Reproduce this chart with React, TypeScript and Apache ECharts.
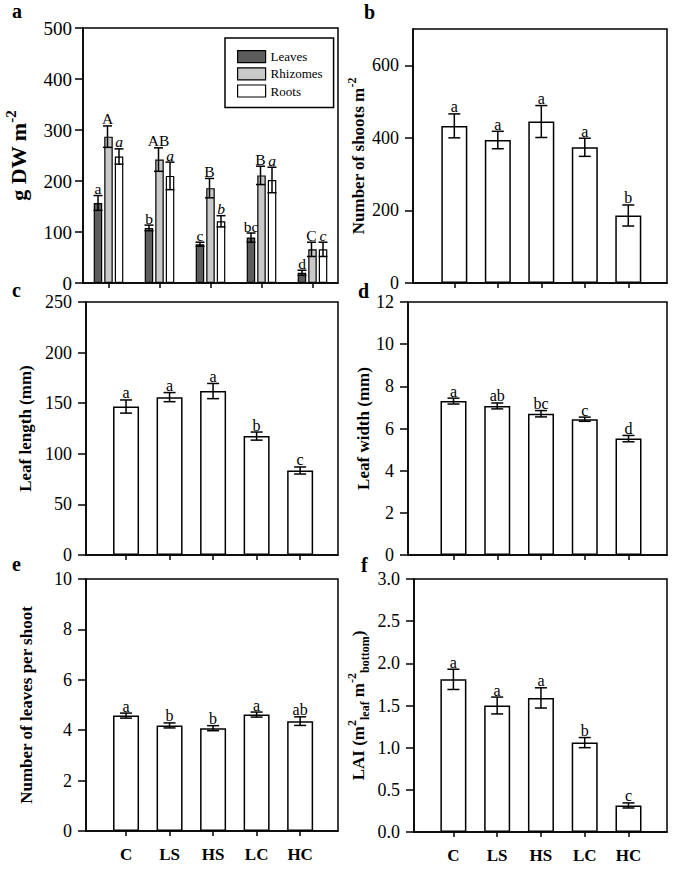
import React, { useEffect, useRef } from 'react';
import * as echarts from 'echarts';

const FONT = "'Liberation Serif', 'Times New Roman', Times, serif";

const categories = ['C', 'LS', 'HS', 'LC', 'HC'];

// Panel a: biomass (g DW m-2)
const leavesMean = [157, 108, 76, 89, 20];
const leavesErr = [14.5, 5.5, 4, 9, 5];
const leavesLetters = ['a', 'b', 'c', 'bc', 'd'];
const rhizomesMean = [287, 242, 186, 211, 66];
const rhizomesErr = [21, 23, 19, 18, 14];
const rhizomesLetters = ['A', 'AB', 'B', 'B', 'C'];
const rootsMean = [248, 210, 121, 202, 66];
const rootsErr = [15, 27, 11, 25, 14];
const rootsLetters = ['a', 'a', 'b', 'a', 'c'];

// Panel b: number of shoots m-2
const shootsMean = [433, 394, 445, 374, 186];
const shootsErr = [33, 24, 44, 25, 29];
const shootsLetters = ['a', 'a', 'a', 'a', 'b'];

// Panel c: leaf length (mm)
const leafLengthMean = [146.7, 156, 162, 117.5, 83.5];
const leafLengthErr = [6.5, 4.5, 7.5, 4, 3.5];
const leafLengthLetters = ['a', 'a', 'a', 'b', 'c'];

// Panel d: leaf width (mm)
const leafWidthMean = [7.3, 7.07, 6.7, 6.44, 5.52];
const leafWidthErr = [0.14, 0.14, 0.15, 0.1, 0.15];
const leafWidthLetters = ['a', 'ab', 'bc', 'c', 'd'];

// Panel e: number of leaves per shoot
const leavesPerShootMean = [4.58, 4.19, 4.08, 4.62, 4.36];
const leavesPerShootErr = [0.1, 0.1, 0.1, 0.1, 0.17];
const leavesPerShootLetters = ['a', 'b', 'b', 'a', 'ab'];

// Panel f: LAI
const laiMean = [1.81, 1.5, 1.59, 1.06, 0.315];
const laiErr = [0.12, 0.1, 0.12, 0.06, 0.03];
const laiLetters = ['a', 'a', 'a', 'b', 'c'];

const catIndex = [0, 1, 2, 3, 4];

type Layout = { left: number; top: number; width: number; height: number; xmin: number; xmax: number };

const layouts: Layout[] = [
  { left: 83, top: 28, width: 255, height: 255, xmin: -0.5, xmax: 4.5 },
  { left: 413, top: 29, width: 254, height: 254, xmin: -0.95, xmax: 4.89 },
  { left: 86, top: 302, width: 252, height: 253, xmin: -0.92, xmax: 4.87 },
  { left: 408, top: 302, width: 259, height: 253, xmin: -1.04, xmax: 4.88 },
  { left: 86, top: 579, width: 252, height: 252, xmin: -0.92, xmax: 4.87 },
  { left: 414, top: 579, width: 253, height: 253, xmin: -0.9, xmax: 4.88 },
];

const LS = { stroke: '#000', lineWidth: 1.5 };

function errorSeries(
  gi: number,
  means: number[],
  errs: number[],
  letters: string[],
  capW: number,
  offset: number,
  italic: boolean,
  fontSize: number
) {
  return {
    type: 'custom',
    xAxisIndex: gi,
    yAxisIndex: gi,
    z: 5,
    silent: true,
    data: means.map((m, i) => [i, m, errs[i]]),
    renderItem: (params: any, api: any) => {
      const x = api.value(0);
      const m = api.value(1);
      const e = api.value(2);
      const top = api.coord([x, m + e]);
      const bot = api.coord([x, m - e]);
      const cx = top[0] + offset;
      return {
        type: 'group',
        children: [
          { type: 'line', shape: { x1: cx, y1: top[1], x2: cx, y2: bot[1] }, style: LS },
          { type: 'line', shape: { x1: cx - capW / 2, y1: top[1], x2: cx + capW / 2, y2: top[1] }, style: LS },
          { type: 'line', shape: { x1: cx - capW / 2, y1: bot[1], x2: cx + capW / 2, y2: bot[1] }, style: LS },
          {
            type: 'text',
            x: cx,
            y: top[1] + 1,
            style: {
              text: letters[params.dataIndex],
              fill: '#000',
              fontSize,
              fontFamily: FONT,
              fontStyle: italic ? 'italic' : 'normal',
              align: 'center',
              verticalAlign: 'bottom',
            },
          },
        ],
      };
    },
  };
}

function whiteBars(gi: number, means: number[]) {
  return {
    type: 'bar',
    xAxisIndex: gi,
    yAxisIndex: gi,
    barWidth: 26,
    silent: true,
    data: means.map((v, i) => [catIndex[i], v]),
    itemStyle: { color: '#fff', borderColor: '#000', borderWidth: 1.5 },
  };
}

function makeRich(size: number) {
  const sub = Math.round(size * 0.7);
  return {
    n: { fontSize: size, fontWeight: 'bold', fontFamily: FONT, color: '#000', lineHeight: size + 8 },
    sup: { fontSize: sub, fontWeight: 'bold', fontFamily: FONT, color: '#000', verticalAlign: 'top' },
    sub: { fontSize: sub, fontWeight: 'bold', fontFamily: FONT, color: '#000', verticalAlign: 'bottom' },
  };
}

function yAxis(
  gi: number,
  min: number,
  max: number,
  interval: number,
  name: string,
  nameGap: number,
  opts: { nameSize?: number; labelSize?: number; margin?: number; tick?: any; label?: any } = {}
) {
  const nameSize = opts.nameSize ?? 17;
  return {
    type: 'value',
    gridIndex: gi,
    min,
    max,
    interval,
    name,
    nameLocation: 'middle',
    nameGap,
    nameTextStyle: { fontSize: nameSize, fontWeight: 'bold', fontFamily: FONT, color: '#000', rich: makeRich(nameSize) },
    axisLine: { show: true, onZero: false, lineStyle: { color: '#000', width: 1.5 } },
    axisTick: { show: true, length: 8, lineStyle: { color: '#000', width: 1.5 }, ...(opts.tick || {}) },
    axisLabel: {
      fontSize: opts.labelSize ?? 18,
      fontFamily: FONT,
      color: '#000',
      margin: opts.margin ?? 14,
      ...(opts.label || {}),
    },
    splitLine: { show: false },
  };
}

function xValueAxis(gi: number, showLabels: boolean) {
  const l = layouts[gi];
  return {
    type: 'value',
    gridIndex: gi,
    min: l.xmin,
    max: l.xmax,
    axisLine: { show: true, onZero: false, lineStyle: { color: '#000', width: 1.5 } },
    axisTick: { show: true, length: 5, customValues: catIndex, lineStyle: { color: '#000', width: 1.5 } },
    axisLabel: {
      show: showLabels,
      customValues: catIndex,
      formatter: (v: number) => categories[Math.round(v)] ?? '',
      fontSize: 17,
      fontWeight: 'bold',
      fontFamily: FONT,
      color: '#000',
      margin: 15,
    },
    splitLine: { show: false },
  };
}

function buildOption() {
  const grids = layouts.map((l) => ({
    left: l.left,
    top: l.top,
    width: l.width,
    height: l.height,
    show: true,
    borderColor: '#000',
    borderWidth: 1.5,
    backgroundColor: 'transparent',
    containLabel: false,
  }));

  const xAxes: any[] = [
    {
      type: 'category',
      gridIndex: 0,
      data: categories,
      axisLine: { show: true, onZero: false, lineStyle: { color: '#000', width: 1.5 } },
      axisTick: { show: true, length: 5, alignWithLabel: true, lineStyle: { color: '#000', width: 1.5 } },
      axisLabel: { show: false },
      splitLine: { show: false },
    },
    xValueAxis(1, false),
    xValueAxis(2, false),
    xValueAxis(3, false),
    xValueAxis(4, true),
    xValueAxis(5, true),
  ];

  const yAxes: any[] = [
    yAxis(0, 0, 500, 100, '{n|g DW m}{sup|-2}', 50, { nameSize: 22, labelSize: 19, margin: 11 }),
    yAxis(1, 0, 700, 100, '{n|Number of shoots m}{sup|-2}', 42, {
      tick: { customValues: [0, 200, 400, 600] },
      label: { customValues: [0, 200, 400, 600] },
    }),
    yAxis(2, 0, 250, 50, 'Leaf length (mm)', 52),
    yAxis(3, 0, 12, 2, 'Leaf width (mm)', 31),
    yAxis(4, 0, 10, 2, 'Number of leaves per shoot', 51),
    yAxis(5, 0, 3, 0.5, '{n|LAI (m}{sup|2}{sub|leaf}{n| m}{sup|-2}{sub|bottom}{n|)}', 43, {
      label: { formatter: (v: number) => v.toFixed(1) },
    }),
  ];

  const barGroupStyle = (color: string) => ({ color, borderColor: '#000', borderWidth: 1.2 });
  const step = 8.5 + 2;

  const series: any[] = [
    { type: 'bar', name: 'Leaves', xAxisIndex: 0, yAxisIndex: 0, barWidth: 8.5, barGap: '24%', data: leavesMean, itemStyle: barGroupStyle('#5c5c5c'), silent: true },
    { type: 'bar', name: 'Rhizomes', xAxisIndex: 0, yAxisIndex: 0, barWidth: 8.5, barGap: '24%', data: rhizomesMean, itemStyle: barGroupStyle('#c9c9c9'), silent: true },
    { type: 'bar', name: 'Roots', xAxisIndex: 0, yAxisIndex: 0, barWidth: 8.5, barGap: '24%', data: rootsMean, itemStyle: barGroupStyle('#ffffff'), silent: true },
    errorSeries(0, leavesMean, leavesErr, leavesLetters, 9, -step, false, 15.5),
    errorSeries(0, rhizomesMean, rhizomesErr, rhizomesLetters, 9, -1, false, 15.5),
    errorSeries(0, rootsMean, rootsErr, rootsLetters, 9, step, true, 15.5),

    whiteBars(1, shootsMean),
    errorSeries(1, shootsMean, shootsErr, shootsLetters, 12, 0, false, 16),
    whiteBars(2, leafLengthMean),
    errorSeries(2, leafLengthMean, leafLengthErr, leafLengthLetters, 12, 0, false, 16),
    whiteBars(3, leafWidthMean),
    errorSeries(3, leafWidthMean, leafWidthErr, leafWidthLetters, 12, 0, false, 16),
    whiteBars(4, leavesPerShootMean),
    errorSeries(4, leavesPerShootMean, leavesPerShootErr, leavesPerShootLetters, 12, 0, false, 16),
    whiteBars(5, laiMean),
    errorSeries(5, laiMean, laiErr, laiLetters, 12, 0, false, 16),
  ];

  const letterStyle = { fontSize: 20, fontWeight: 'bold', fontFamily: FONT, color: '#000' };
  const title = [
    { text: 'a', left: 12, top: 1 },
    { text: 'b', left: 364, top: 2 },
    { text: 'c', left: 12, top: 280 },
    { text: 'd', left: 358, top: 281 },
    { text: 'e', left: 12, top: 554 },
    { text: 'f', left: 361, top: 555 },
  ].map((t) => ({ ...t, padding: 0, textStyle: letterStyle }));

  return {
    animation: false,
    backgroundColor: '#fff',
    title,
    legend: {
      data: ['Leaves', 'Rhizomes', 'Roots'],
      orient: 'vertical',
      left: 225,
      top: 38,
      padding: [12, 11, 10, 12],
      itemWidth: 28,
      itemHeight: 12,
      itemGap: 4,
      icon: 'rect',
      selectedMode: false,
      borderColor: '#000',
      borderWidth: 1.5,
      backgroundColor: '#fff',
      itemStyle: { borderColor: '#000', borderWidth: 1.2 },
      textStyle: { fontFamily: FONT, fontSize: 13, color: '#000' },
    },
    grid: grids,
    xAxis: xAxes,
    yAxis: yAxes,
    series,
  };
}

export default function App() {
  const ref = useRef<HTMLDivElement>(null);
  useEffect(() => {
    if (!ref.current) return;
    const chart = echarts.init(ref.current, null, { renderer: 'svg' });
    chart.setOption(buildOption() as any);
    return () => chart.dispose();
  }, []);
  return (
    <div
      ref={ref}
      style={{ position: 'absolute', left: 0, top: 0, width: 674, height: 869, background: '#fff' }}
    />
  );
}
